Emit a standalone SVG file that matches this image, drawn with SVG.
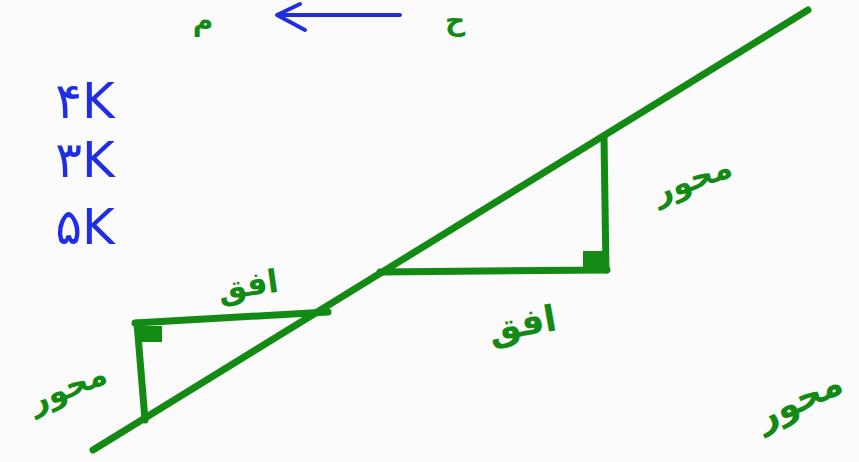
<svg xmlns="http://www.w3.org/2000/svg" width="859" height="462" viewBox="0 0 859 462">
<style>
.g{stroke:#138a13;stroke-width:7;stroke-linecap:round;fill:none}
.gt{fill:#138a13;font-family:"DejaVu Sans",sans-serif;font-weight:bold}
.bt{fill:#1f2ee6;font-family:"DejaVu Sans",sans-serif}
.b{stroke:#1f2ee6;stroke-width:4;stroke-linecap:round;stroke-linejoin:round;fill:none}
</style>
<rect width="859" height="462" fill="#fbfbfb"/>
<g id="main-line"><path class="g" d="M93,450 L808,10"/></g>
<g id="triangle-upper">
<path class="g" d="M380,272 L607,270"/>
<path class="g" d="M604,137 L606,270"/>
<rect x="583" y="251" width="21" height="18" fill="#138a13"/>
</g>
<g id="triangle-lower">
<path class="g" d="M135,323 L328,312"/>
<path class="g" d="M137,323 L145,420"/>
<rect x="140" y="326" width="22" height="16" fill="#138a13"/>
</g>
<g id="labels">
<text class="gt" x="248" y="296" font-size="32" text-anchor="middle" transform="rotate(-8 248 285)">افق</text>
<text class="gt" x="522" y="336" font-size="36" text-anchor="middle" transform="rotate(-10 522 322)">افق</text>
<text class="gt" x="692" y="190" font-size="32" text-anchor="middle" transform="rotate(-20 692 178)">محور</text>
<text class="gt" x="68" y="398" font-size="32" text-anchor="middle" transform="rotate(-22 68 388)">محور</text>
<text class="gt" x="798" y="412" font-size="36" text-anchor="middle" transform="rotate(-25 798 398)">محور</text>
<text class="gt" x="203" y="30" font-size="28" text-anchor="middle">م</text>
<text class="gt" x="455" y="30" font-size="28" text-anchor="middle">ح</text>
</g>
<g id="k-list">
<text class="bt" x="85" y="118" font-size="50" text-anchor="middle">۴K</text>
<text class="bt" x="85" y="177" font-size="50" text-anchor="middle">۳K</text>
<text class="bt" x="85" y="244" font-size="50" text-anchor="middle">۵K</text>
</g>
<g id="connectors">
<path class="b" d="M400,15 L278,15 M300,4 L277,15 L305,30"/>
</g>
</svg>
